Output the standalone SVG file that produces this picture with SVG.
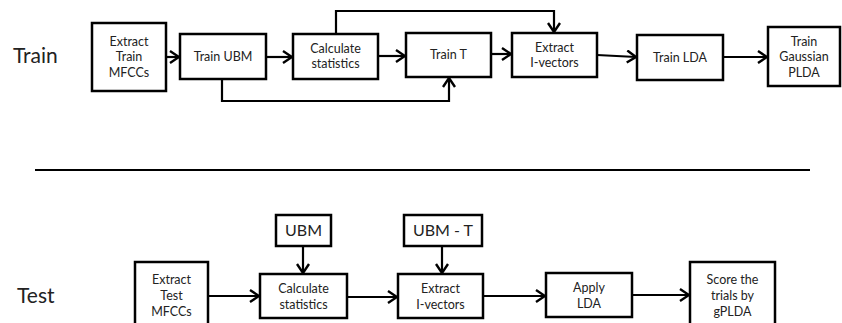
<svg xmlns="http://www.w3.org/2000/svg" width="842" height="323" viewBox="0 0 842 323">
<defs>
<style>
.box{fill:#fff;stroke:#000;stroke-width:2.5}
.t{font-family:Lato,"Liberation Sans",sans-serif;font-size:12.5px;fill:#222;text-anchor:middle}
.big{font-family:Lato,"Liberation Sans",sans-serif;font-size:21px;fill:#222}
.mid{font-family:Lato,"Liberation Sans",sans-serif;font-size:16px;fill:#222;text-anchor:middle}
.c{fill:none;stroke:#000;stroke-width:2.2}
</style>
<marker id="ah" viewBox="0 0 12 14" refX="10" refY="7" markerWidth="12" markerHeight="14" markerUnits="userSpaceOnUse" orient="auto">
<path d="M1,1 L10,7 L1,13" fill="none" stroke="#000" stroke-width="2.4"/>
</marker>
</defs>
<rect width="842" height="323" fill="#fff"/>

<text class="big" x="13" y="63">Train</text>
<text class="big" x="17" y="303">Test</text>
<line x1="35" y1="170" x2="810" y2="170" stroke="#000" stroke-width="2"/>

<g id="connectors">
<line class="c" x1="166" y1="57" x2="179" y2="57" marker-end="url(#ah)"/>
<line class="c" x1="266" y1="57" x2="292" y2="57" marker-end="url(#ah)"/>
<line class="c" x1="378" y1="56" x2="405" y2="56" marker-end="url(#ah)"/>
<line class="c" x1="491" y1="54" x2="511" y2="54" marker-end="url(#ah)"/>
<line class="c" x1="597" y1="55" x2="636" y2="57" marker-end="url(#ah)"/>
<line class="c" x1="723" y1="57" x2="767" y2="57" marker-end="url(#ah)"/>
<polyline class="c" points="336,34 336,11 554,11 554,32" marker-end="url(#ah)"/>
<polyline class="c" points="222,79 222,101 449,101 449,78" marker-end="url(#ah)"/>
<line class="c" x1="208" y1="296" x2="259" y2="296" marker-end="url(#ah)"/>
<line class="c" x1="347" y1="297" x2="397" y2="297" marker-end="url(#ah)"/>
<line class="c" x1="483" y1="296" x2="545" y2="296" marker-end="url(#ah)"/>
<line class="c" x1="632" y1="295" x2="689" y2="295" marker-end="url(#ah)"/>
<line class="c" x1="303" y1="246" x2="303" y2="273" marker-end="url(#ah)"/>
<line class="c" x1="442" y1="246" x2="442" y2="273" marker-end="url(#ah)"/>
</g>

<g id="extract-train-mfccs">
<rect class="box" x="92" y="23" width="74" height="68"/>
<text class="t" x="129" y="46">Extract</text>
<text class="t" x="129" y="61">Train</text>
<text class="t" x="129" y="77">MFCCs</text>
</g>
<g id="train-ubm">
<rect class="box" x="180" y="34" width="86" height="45"/>
<text class="t" x="223" y="61">Train UBM</text>
</g>
<g id="calc-stats-train">
<rect class="box" x="293" y="34" width="85" height="45"/>
<text class="t" x="335.5" y="53">Calculate</text>
<text class="t" x="335.5" y="68">statistics</text>
</g>
<g id="train-t">
<rect class="box" x="406" y="33" width="85" height="44"/>
<text class="t" x="448.5" y="59">Train T</text>
</g>
<g id="extract-ivectors-train">
<rect class="box" x="512" y="33" width="85" height="44"/>
<text class="t" x="554.5" y="52">Extract</text>
<text class="t" x="554.5" y="67">I-vectors</text>
</g>
<g id="train-lda">
<rect class="box" x="637" y="35" width="86" height="45"/>
<text class="t" x="680" y="62">Train LDA</text>
</g>
<g id="train-gplda">
<rect class="box" x="768" y="27" width="72" height="59"/>
<text class="t" x="804" y="46">Train</text>
<text class="t" x="804" y="61">Gaussian</text>
<text class="t" x="804" y="77">PLDA</text>
</g>

<g id="ubm">
<rect class="box" x="276" y="215" width="55" height="31"/>
<text class="mid" x="303.5" y="236">UBM</text>
</g>
<g id="ubm-t">
<rect class="box" x="404" y="215" width="78" height="31"/>
<text class="mid" x="443" y="236">UBM - T</text>
</g>
<g id="extract-test-mfccs">
<rect class="box" x="135" y="262" width="73" height="70"/>
<text class="t" x="171.5" y="284">Extract</text>
<text class="t" x="171.5" y="300">Test</text>
<text class="t" x="171.5" y="316">MFCCs</text>
</g>
<g id="calc-stats-test">
<rect class="box" x="260" y="274" width="87" height="44"/>
<text class="t" x="303.5" y="293">Calculate</text>
<text class="t" x="303.5" y="309">statistics</text>
</g>
<g id="extract-ivectors-test">
<rect class="box" x="398" y="274" width="85" height="44"/>
<text class="t" x="440.5" y="293">Extract</text>
<text class="t" x="440.5" y="309">I-vectors</text>
</g>
<g id="apply-lda">
<rect class="box" x="546" y="273" width="86" height="44"/>
<text class="t" x="589" y="292">Apply</text>
<text class="t" x="589" y="308">LDA</text>
</g>
<g id="score-gplda">
<rect class="box" x="690" y="262" width="85" height="70"/>
<text class="t" x="732.5" y="284">Score the</text>
<text class="t" x="732.5" y="300">trials by</text>
<text class="t" x="732.5" y="316">gPLDA</text>
</g>
</svg>
